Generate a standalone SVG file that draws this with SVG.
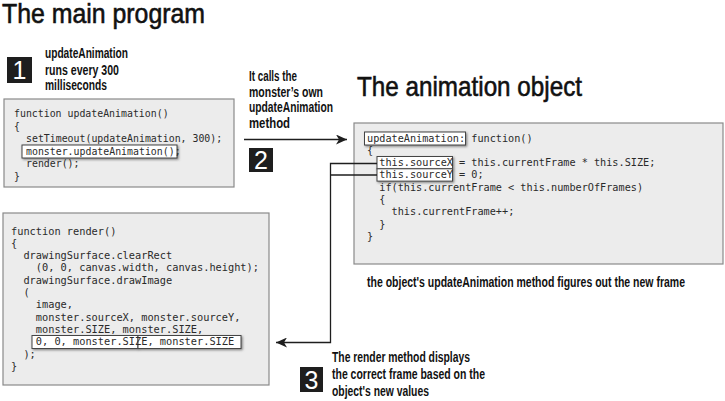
<svg xmlns="http://www.w3.org/2000/svg" width="725" height="401" viewBox="0 0 725 401">
<style>
.title{font-family:"Liberation Sans Narrow","Liberation Sans",Arial,sans-serif;font-size:28px;fill:#111;stroke:#111;stroke-width:0.6}
.lbl{font-family:"Liberation Sans Narrow","Liberation Sans",Arial,sans-serif;font-size:14.5px;font-weight:bold;fill:#111}
.num{font-family:"Liberation Sans Narrow","Liberation Sans",Arial,sans-serif;font-size:25px;fill:#fff;text-anchor:middle}
.step{fill:#1e1e1e}
.codebox{fill:#ececec;stroke:#8a8a8a;stroke-width:1.2}
.hl{fill:#fff;stroke:#444;stroke-width:1;filter:url(#sh)}
.code{font-family:"DejaVu Sans Mono","Liberation Mono",monospace;fill:#2a2a2a}
.c1{font-size:9.9px}
.c2{font-size:10.2px}
.c3{font-size:10.3px}
.wire{fill:none;stroke:#1e1e1e;stroke-width:1.3}
</style>
<defs>
<filter id="sh" x="-10%" y="-30%" width="120%" height="160%">
<feDropShadow dx="1.2" dy="1.2" stdDeviation="0.8" flood-color="#555" flood-opacity="0.7"/>
</filter>
<marker id="ah" markerWidth="12" markerHeight="10" refX="11" refY="5" orient="auto" markerUnits="userSpaceOnUse">
<path d="M0,0 L11,5 L0,10 L3,5 Z" fill="#1e1e1e"/>
</marker>
</defs>

<text class="title" x="2" y="23" textLength="203" lengthAdjust="spacingAndGlyphs">The main program</text>
<text class="title" x="357" y="96" textLength="225" lengthAdjust="spacingAndGlyphs">The animation object</text>

<g id="step1">
<rect class="step" x="7" y="57" width="25" height="26"/>
<text class="num" x="19.5" y="79">1</text>
<text class="lbl" x="45" y="58" textLength="83" lengthAdjust="spacingAndGlyphs">updateAnimation</text>
<text class="lbl" x="45" y="74.5" textLength="74" lengthAdjust="spacingAndGlyphs">runs every 300</text>
<text class="lbl" x="45" y="90" textLength="62" lengthAdjust="spacingAndGlyphs">milliseconds</text>
</g>

<g id="step2">
<text class="lbl" x="249" y="81" textLength="48" lengthAdjust="spacingAndGlyphs">It calls the</text>
<text class="lbl" x="249" y="96.5" textLength="74" lengthAdjust="spacingAndGlyphs">monster’s own</text>
<text class="lbl" x="249" y="112" textLength="84" lengthAdjust="spacingAndGlyphs">updateAnimation</text>
<text class="lbl" x="249" y="127.5" textLength="41" lengthAdjust="spacingAndGlyphs">method</text>
<rect class="step" x="249" y="148" width="24" height="24"/>
<text class="num" x="261" y="169">2</text>
</g>

<g id="step3">
<rect class="step" x="300" y="367" width="23" height="25"/>
<text class="num" x="311.5" y="388.5">3</text>
<text class="lbl" x="332" y="362" textLength="138" lengthAdjust="spacingAndGlyphs">The render method displays</text>
<text class="lbl" x="332" y="379" textLength="153" lengthAdjust="spacingAndGlyphs">the correct frame based on the</text>
<text class="lbl" x="332" y="396" textLength="97" lengthAdjust="spacingAndGlyphs">object's new values</text>
</g>

<g id="caption">
<text class="lbl" x="367" y="287" textLength="318" lengthAdjust="spacingAndGlyphs">the object's updateAnimation method figures out the new frame</text>
</g>

<g id="mainLoop">
<rect class="codebox" x="4" y="99" width="230" height="88"/>
<rect class="hl" x="22" y="145" width="155" height="13"/>
<g class="code c1">
<text x="14" y="117">function updateAnimation()</text>
<text x="14" y="129.5">{</text>
<text x="26" y="142">setTimeout(updateAnimation, 300);</text>
<text x="26" y="154.5">monster.updateAnimation();</text>
<text x="26" y="167">render();</text>
<text x="14" y="179.5">}</text>
</g>
</g>

<g id="animationObject">
<rect class="codebox" x="354" y="123" width="369" height="141"/>
<rect class="hl" x="364.5" y="132" width="101" height="13"/>
<rect class="hl" x="377" y="156.5" width="75.5" height="12.3"/>
<rect class="hl" x="377" y="168.8" width="75.5" height="12.3"/>
<g class="code c2">
<text x="367" y="141.5">updateAnimation: function()</text>
<text x="367" y="153.8">{</text>
<text x="379.3" y="166.1">this.sourceX = this.currentFrame * this.SIZE;</text>
<text x="379.3" y="178.4">this.sourceY = 0;</text>
<text x="379.3" y="190.7">if(this.currentFrame &lt; this.numberOfFrames)</text>
<text x="379.3" y="203">{</text>
<text x="391.6" y="215.3">this.currentFrame++;</text>
<text x="379.3" y="227.6">}</text>
<text x="367" y="239.9">}</text>
</g>
</g>

<g id="render">
<rect class="codebox" x="3" y="213" width="266" height="172"/>
<rect class="hl" x="32" y="335.5" width="106" height="13"/>
<rect class="hl" x="138" y="335.5" width="103" height="13"/>
<g class="code c3">
<text x="11" y="234.5">function render()</text>
<text x="11" y="246.8">{</text>
<text x="23.4" y="259.1">drawingSurface.clearRect</text>
<text x="35.8" y="271.4">(0, 0, canvas.width, canvas.height);</text>
<text x="23.4" y="283.7">drawingSurface.drawImage</text>
<text x="23.4" y="296">(</text>
<text x="35.8" y="308.3">image,</text>
<text x="35.8" y="320.6">monster.sourceX, monster.sourceY,</text>
<text x="35.8" y="332.9">monster.SIZE, monster.SIZE,</text>
<text x="35.8" y="345.2">0, 0, monster.SIZE, monster.SIZE</text>
<text x="23.4" y="357.5">);</text>
<text x="11" y="369.8">}</text>
</g>
</g>

<g id="connectors">
<line class="wire" x1="244" y1="139.5" x2="347" y2="139.5" marker-end="url(#ah)"/>
<polyline class="wire" points="377,163.5 330.5,163.5 330.5,342.5 276,342.5" marker-end="url(#ah)"/>
<line class="wire" x1="377" y1="175" x2="330.5" y2="175"/>
</g>
</svg>
